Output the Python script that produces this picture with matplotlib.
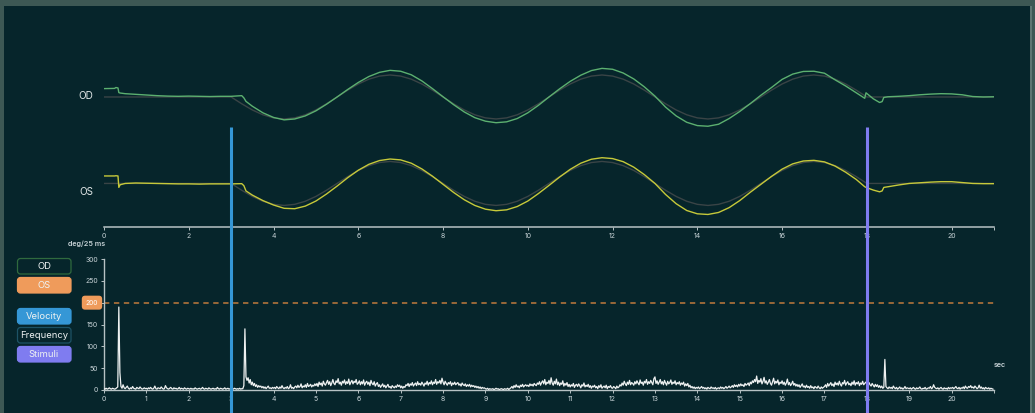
import numpy as np
import matplotlib
matplotlib.use("Agg")
import matplotlib.pyplot as plt
from matplotlib.patches import Rectangle, FancyBboxPatch
from matplotlib.lines import Line2D
from matplotlib import transforms

plt.rcParams['font.family'] = ['Inter', 'DejaVu Sans']

# ---------------- data ----------------
# stimulus target position (deg), sampled every 0.25 s from 0 to 21 s
target_t = np.arange(0, 21.001, 0.25)
target_deg = [
    0, 0, 0, 0, 0, 0, 0, 0, 0, 0, 0, 0, 0,
    -3.1, -5.9, -8.1, -9.5, -10, -9.5, -8.1, -5.9, -3.1, 0, 3.1, 5.9, 8.1, 9.5, 10, 9.5, 8.1, 5.9, 3.1, 0,
    -3.1, -5.9, -8.1, -9.5, -10, -9.5, -8.1, -5.9, -3.1, 0, 3.1, 5.9, 8.1, 9.5, 10, 9.5, 8.1, 5.9, 3.1, 0,
    -3.1, -5.9, -8.1, -9.5, -10, -9.5, -8.1, -5.9, -3.1, 0, 3.1, 5.9, 8.1, 9.5, 10, 9.5, 8.1, 5.9, 3.1, 0,
    0, 0, 0, 0, 0, 0, 0, 0, 0, 0, 0, 0,
]

# eye position samples (s)
eye_t = [
    0.0, 0.25, 0.28, 0.33, 0.35, 0.38, 0.5, 0.75, 1.0, 1.25, 1.5, 1.75, 2.0, 2.25, 2.5, 2.75, 3.0, 3.25, 3.3, 3.35,
    3.5, 3.75, 4.0, 4.25, 4.5, 4.75, 5.0, 5.25, 5.5, 5.75, 6.0, 6.25, 6.5, 6.75, 7.0, 7.25, 7.5, 7.75,
    8.0, 8.25, 8.5, 8.75, 9.0, 9.25, 9.5, 9.75, 10.0, 10.25, 10.5, 10.75, 11.0, 11.25, 11.5, 11.75,
    12.0, 12.25, 12.5, 12.75, 13.0, 13.25, 13.5, 13.75, 14.0, 14.25, 14.5, 14.75, 15.0, 15.25, 15.5, 15.75,
    16.0, 16.25, 16.5, 16.75, 17.0, 17.25, 17.5, 17.75,
    17.95, 17.98, 18.15, 18.3, 18.36, 18.4,
    18.5, 18.75, 19.0, 19.25, 19.5, 19.75, 20.0, 20.25, 20.5, 20.75, 21.0,
]
# right eye (deg)
od_deg = [
    3.8, 3.9, 4.3, 4.1, 2.0, 1.8, 1.5, 1.2, 0.9, 0.6, 0.4, 0.3, 0.4, 0.3, 0.2, 0.3, 0.3, 0.6, -0.4, -2.0,
    -4.2, -7.2, -9.3, -10.4, -10.0, -8.6, -6.3, -3.3, 0.0, 3.4, 6.6, 9.3, 11.2, 12.1, 11.7, 10.1, 7.3, 3.8,
    0.1, -3.5, -6.8, -9.4, -11.0, -11.7, -11.3, -9.8, -7.2, -3.8, 0.0, 3.7, 7.1, 9.9, 12.0, 13.0,
    12.6, 10.9, 8.2, 4.6, 0.4, -4.6, -8.6, -11.5, -13.0, -13.3, -12.4, -9.8, -6.6, -3.0, 0.8, 4.3,
    8.0, 10.4, 11.6, 11.7, 10.8, 7.8, 5.0, 1.9,
    -0.6, 1.9, -0.8, -2.5, -2.1, -0.2,
    0.1, 0.3, 0.6, 1.0, 1.3, 1.5, 1.4, 1.0, 0.2, 0.0, 0.1,
]
# left eye (deg)
os_deg = [
    3.4, 3.4, 3.5, 3.4, -1.8, -0.6, 0.0, 0.2, 0.1, 0.0, -0.1, -0.2, -0.2, -0.3, -0.2, -0.2, -0.2, -0.1, -1.0, -3.4,
    -5.3, -7.8, -9.8, -11.3, -11.5, -10.3, -8.0, -4.8, -1.2, 2.6, 6.0, 8.7, 10.4, 11.1, 10.7, 9.2, 6.6, 3.3,
    -0.4, -4.1, -7.4, -10.0, -11.7, -12.4, -12.0, -10.5, -8.0, -4.6, -0.9, 2.9, 6.4, 9.2, 11.0, 11.7,
    11.3, 9.9, 7.4, 4.0, 0.0, -5.0, -9.2, -12.3, -13.8, -14.1, -13.2, -11.0, -7.8, -4.0, -0.4, 3.2,
    6.5, 8.9, 10.2, 10.5, 9.8, 7.9, 5.1, 1.8,
    -1.5, -1.8, -3.0, -3.8, -3.4, -1.8,
    -1.5, -0.7, 0.0, 0.3, 0.6, 0.8, 0.8, 0.4, 0.0, -0.1, -0.1,
]

# eye velocity (deg / 25 ms), one sample every 25 ms, one row per second
vel_dt = 0.025
velocity_rows = [
    [3, 2, 4, 2, 3, 5, 3, 2, 4, 3, 2, 3, 5, 7, 190, 40, 8, 4, 12, 5, 3, 6, 9, 4, 2, 5, 3, 8, 4, 3, 2, 6, 4, 3, 7, 4, 2, 3, 5, 3],
    [4, 2, 5, 3, 6, 3, 2, 4, 9, 3, 2, 5, 4, 3, 7, 4, 2, 3, 10, 5, 3, 2, 4, 6, 3, 2, 5, 3, 4, 2, 3, 6, 2, 4, 3, 2, 5, 3, 2, 4],
    [3, 2, 4, 2, 3, 2, 5, 3, 2, 3, 4, 2, 3, 6, 3, 2, 4, 3, 2, 5, 3, 2, 3, 4, 2, 3, 2, 6, 3, 2, 4, 3, 2, 3, 5, 2, 3, 4, 2, 3],
    [2, 3, 2, 4, 3, 2, 3, 2, 4, 2, 3, 3, 10, 140, 30, 22, 28, 16, 24, 12, 18, 10, 15, 8, 12, 6, 10, 7, 9, 5, 8, 4, 7, 3, 6, 9, 4, 5, 3, 6],
    [4, 6, 3, 8, 5, 3, 7, 4, 10, 5, 3, 6, 4, 8, 3, 5, 12, 4, 6, 3, 7, 9, 5, 11, 6, 8, 14, 5, 9, 7, 12, 6, 15, 8, 10, 13, 7, 11, 9, 14],
    [10, 15, 8, 18, 12, 16, 9, 20, 14, 11, 17, 22, 13, 19, 10, 16, 24, 15, 12, 21, 17, 26, 14, 18, 11, 20, 16, 23, 13, 19, 15, 25, 12, 18, 22, 14, 20, 17, 24, 13],
    [16, 21, 12, 19, 14, 23, 11, 17, 20, 13, 18, 10, 22, 15, 12, 19, 9, 14, 17, 8, 12, 6, 10, 14, 7, 11, 5, 9, 13, 6, 8, 4, 10, 7, 5, 9, 6, 12, 8, 11],
    [5, 9, 4, 8, 6, 12, 10, 15, 8, 14, 11, 17, 9, 13, 16, 10, 19, 12, 15, 11, 18, 14, 9, 16, 13, 20, 11, 17, 14, 21, 12, 18, 15, 24, 13, 19, 16, 22, 14, 27],
    [18, 12, 20, 15, 11, 17, 14, 19, 10, 16, 13, 18, 12, 15, 17, 11, 14, 9, 16, 12, 10, 14, 8, 12, 9, 13, 7, 11, 8, 10, 6, 9, 5, 8, 4, 7, 3, 6, 4, 5],
    [3, 2, 4, 1, 3, 2, 2, 3, 1, 2, 4, 2, 3, 1, 2, 3, 2, 1, 3, 2, 2, 4, 1, 3, 5, 8, 4, 10, 6, 12, 7, 9, 5, 11, 8, 13, 7, 10, 12, 9],
    [11, 8, 14, 10, 13, 9, 15, 12, 10, 16, 13, 19, 11, 17, 21, 14, 24, 12, 18, 15, 22, 13, 28, 16, 11, 20, 14, 25, 12, 18, 10, 16, 13, 21, 9, 15, 11, 17, 8, 13],
    [7, 12, 9, 15, 6, 11, 13, 8, 14, 10, 5, 12, 9, 16, 7, 11, 8, 13, 6, 10, 4, 9, 7, 11, 5, 8, 3, 10, 6, 12, 4, 7, 9, 5, 11, 3, 8, 6, 10, 5],
    [4, 8, 6, 3, 9, 5, 7, 12, 9, 16, 11, 20, 14, 10, 18, 13, 22, 12, 17, 15, 11, 19, 14, 21, 16, 12, 23, 15, 18, 11, 20, 16, 24, 13, 19, 15, 22, 17, 12, 26],
    [30, 15, 21, 13, 18, 24, 14, 19, 12, 22, 16, 11, 20, 14, 17, 23, 13, 18, 15, 21, 12, 17, 14, 19, 11, 16, 13, 18, 9, 14, 10, 15, 7, 11, 5, 8, 4, 7, 3, 6],
    [4, 7, 3, 5, 8, 4, 6, 3, 5, 2, 6, 4, 3, 7, 4, 5, 3, 6, 2, 4, 5, 3, 7, 4, 6, 3, 5, 8, 4, 6, 9, 5, 7, 10, 6, 12, 8, 11, 7, 13],
    [9, 14, 10, 12, 8, 15, 11, 13, 16, 10, 18, 14, 21, 17, 24, 19, 32, 15, 22, 18, 26, 14, 20, 29, 16, 21, 13, 18, 24, 15, 11, 19, 27, 14, 20, 16, 23, 12, 18, 15],
    [21, 13, 18, 11, 16, 25, 12, 17, 10, 14, 20, 11, 15, 9, 13, 8, 12, 6, 10, 14, 7, 9, 5, 11, 6, 8, 4, 10, 5, 7, 3, 8, 6, 4, 9, 5, 3, 7, 4, 6],
    [8, 12, 6, 15, 9, 13, 17, 10, 14, 8, 18, 12, 16, 11, 20, 13, 9, 17, 14, 22, 11, 16, 19, 12, 15, 10, 18, 13, 21, 11, 17, 14, 19, 10, 16, 13, 20, 12, 15, 18],
    [14, 10, 17, 12, 9, 15, 11, 7, 13, 8, 12, 6, 10, 5, 9, 4, 6, 70, 8, 5, 3, 7, 4, 6, 3, 9, 5, 3, 6, 2, 4, 7, 3, 5, 2, 4, 8, 3, 5, 4],
    [3, 5, 2, 4, 6, 3, 2, 5, 3, 4, 7, 3, 2, 4, 3, 6, 2, 3, 5, 4, 8, 3, 5, 12, 6, 4, 3, 5, 2, 4, 6, 3, 2, 5, 3, 4, 2, 6, 3, 5],
    [4, 6, 3, 5, 8, 4, 3, 6, 2, 5, 4, 7, 3, 9, 5, 4, 8, 6, 10, 5, 7, 4, 9, 6, 3, 5, 11, 4, 7, 3, 5, 2, 6, 4, 3, 5, 2, 4, 3, 2],
]

stim_on = 3.0
stim_off = 18.0
threshold = 200
top_ticks = [0, 2, 4, 6, 8, 10, 12, 14, 16, 18, 20]
bottom_ticks = list(range(0, 21))
vel_ticks = [0, 50, 100, 150, 200, 250, 300]
t_end = 21
legend_labels = ["OD", "OS", "Velocity", "Frequency", "Stimuli"]

assert len(target_deg) == len(target_t)
assert len(eye_t) == len(od_deg) == len(os_deg)

# ---------------- style ----------------
OUTER = '#3d5854'
PANEL = '#06252b'
OD_C = '#5cb070'
OS_C = '#c6c93a'
TARGET_C = '#3a4446'
AXIS_C = '#b7c2c4'
TICK_C = '#c9d4d8'
BLUE = '#3597d6'
PURPLE = '#7f7cf0'
ORANGE = '#ef9b5b'
DASH_C = '#c07a3c'
VEL_C = '#eef1f1'
TEXT_C = '#e2e8e8'

W, H = 1035, 413
fig = plt.figure(figsize=(W / 100, H / 100), dpi=100, facecolor=OUTER)


def fx(px):
    return px / W


def fy(py):
    return 1 - py / H


# dark panel
fig.add_artist(Rectangle((fx(4), 0), fx(1030) - fx(4), fy(6), transform=fig.transFigure,
                         facecolor=PANEL, edgecolor='none', zorder=-2))
fig.add_artist(Rectangle((fx(1030), 0), fx(2), fy(6), transform=fig.transFigure,
                         facecolor='#5d7672', edgecolor='none', zorder=-2))

OD_BASE = 59.1
OS_BASE = 19.8

# ---------- position panel ----------
ax1 = fig.add_axes([fx(104), fy(227), fx(994) - fx(104), (227 - 40) / H])
ax1.set_facecolor('none')
ax1.set_xlim(0, t_end)
ax1.set_ylim(0, 85)
for s in ['top', 'right', 'left']:
    ax1.spines[s].set_visible(False)
ax1.spines['bottom'].set_color(AXIS_C)
ax1.spines['bottom'].set_linewidth(1.1)
ax1.set_yticks([])
ax1.set_xticks(top_ticks + [t_end])
ax1.set_xticklabels([str(v) for v in top_ticks] + [''])
ax1.tick_params(axis='x', colors=AXIS_C, length=2.5, width=0.7, pad=2,
                labelsize=5, labelcolor=TICK_C)

ax1.plot(target_t, OD_BASE + np.array(target_deg), color=TARGET_C, lw=1.0, zorder=2)
ax1.plot(target_t, OS_BASE + np.array(target_deg), color=TARGET_C, lw=1.0, zorder=2)
ax1.plot(eye_t, OD_BASE + np.array(od_deg), color=OD_C, lw=1.0, zorder=3)
ax1.plot(eye_t, OS_BASE + np.array(os_deg), color=OS_C, lw=1.0, zorder=3)

# ---------- velocity panel ----------
ax2 = fig.add_axes([fx(104), fy(390), fx(994) - fx(104), (390 - 259) / H])
ax2.set_facecolor('none')
ax2.set_xlim(0, t_end)
ax2.set_ylim(0, 300)
for s in ['top', 'right']:
    ax2.spines[s].set_visible(False)
for s in ['left', 'bottom']:
    ax2.spines[s].set_color(AXIS_C)
    ax2.spines[s].set_linewidth(1.0)
ax2.set_xticks(bottom_ticks + [t_end])
ax2.set_xticklabels([str(v) for v in bottom_ticks] + [''])
ax2.set_yticks(vel_ticks)
ax2.set_yticklabels([('' if v == threshold else str(v)) for v in vel_ticks])
ax2.tick_params(axis='both', colors=AXIS_C, length=2.5, width=0.7, pad=2,
                labelsize=5, labelcolor=TICK_C)

velocity = np.concatenate([np.array(r, dtype=float) for r in velocity_rows])
vel_t = np.arange(len(velocity)) * vel_dt
ax2.plot(vel_t, velocity, color=VEL_C, lw=0.9, zorder=3)

ax2.axhline(threshold, color=DASH_C, lw=1.1, ls=(0, (3.5, 3)), zorder=2)
ax2.text(-0.0135, threshold, str(threshold), transform=ax2.get_yaxis_transform(),
         ha='center', va='center', fontsize=4.8, color='white',
         bbox=dict(boxstyle='round,pad=0.6,rounding_size=0.5', fc=ORANGE, ec='none'),
         clip_on=False, zorder=5)

# stimulus markers spanning both panels
blend = transforms.blended_transform_factory(ax2.transData, fig.transFigure)
for t, c in [(stim_on, BLUE), (stim_off, PURPLE)]:
    fig.add_artist(Line2D([t, t], [0, fy(127)], transform=blend, color=c, lw=2.2,
                          solid_capstyle='butt', zorder=4))

# ---------- overlay for labels & buttons (pixel coordinates) ----------
ov = fig.add_axes([0, 0, 1, 1], zorder=5)
ov.set_xlim(0, W)
ov.set_ylim(H, 0)
ov.axis('off')
ov.patch.set_alpha(0)

ov.text(86, 96, "OD", color=TEXT_C, fontsize=7.2, ha='center', va='center')
ov.text(86, 192, "OS", color=TEXT_C, fontsize=7.2, ha='center', va='center')
ov.text(87, 244, "deg/25 ms", color=TICK_C, fontsize=5.2, ha='center', va='center',
        fontweight='semibold')
ov.text(994, 365, "sec", color=TICK_C, fontsize=5.2, ha='left', va='center',
        fontweight='semibold')

buttons = [
    (legend_labels[0], 258, PANEL, '#2f6a3e'),
    (legend_labels[1], 277, ORANGE, ORANGE),
    (legend_labels[2], 308, BLUE, BLUE),
    (legend_labels[3], 327, PANEL, '#1d5366'),
    (legend_labels[4], 346, PURPLE, PURPLE),
]
for label, y0, fc, ec in buttons:
    ov.add_patch(FancyBboxPatch((17.5, y0 + 0.5), 53.5, 15.5,
                                boxstyle="round,pad=0,rounding_size=3",
                                facecolor=fc, edgecolor=ec, lw=0.9))
    ov.text(44, y0 + 8.3, label, color='#eef2f2', fontsize=6.8, ha='center', va='center')

fig.savefig("out.png", dpi=100, facecolor=OUTER)
